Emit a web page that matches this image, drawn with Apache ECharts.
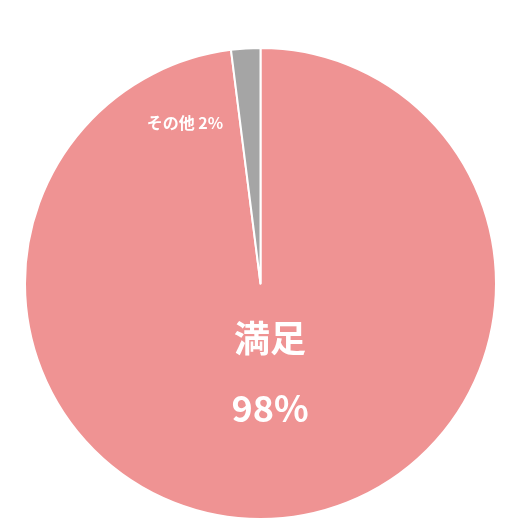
<!DOCTYPE html>
<html>
<head>
<meta charset="utf-8">
<script src="https://cdn.jsdelivr.net/npm/echarts@6/dist/echarts.min.js"></script>
<style>
  html, body { margin: 0; padding: 0; background: #fff; }
  #chart { width: 530px; height: 530px; }
</style>
</head>
<body>
<div id="chart"></div>
<script>
// answers (percent)
const names = ['満足', 'その他']
const values = [98, 2]
const colors = ['#EF9393', '#A5A5A5']

const chart = echarts.init(document.getElementById('chart'))

chart.setOption({
  animation: false,
  series: [
    {
      type: 'pie',
      center: [260.5, 283.5],
      radius: [0, 235.5],
      startAngle: 90,
      clockwise: true,
      itemStyle: {
        borderColor: '#fff',
        borderWidth: 2
      },
      label: {
        show: true,
        position: 'inside',
        color: '#fff',
        fontFamily: 'Noto Sans CJK JP',
        fontWeight: 'bold'
      },
      // move labels off the default inside spot
      labelLayout: function (params) {
        if (params.dataIndex === 0) return { dx: 2, dy: -31 }
        return { dx: -68, dy: -40 }
      },
      data: names.map(function (n, i) {
        const item = { name: n, value: values[i], itemStyle: { color: colors[i] } }
        if (i === 0) {
          item.label = {
            formatter: '{a|{b}}\n{a|{c}%}',
            rich: {
              a: {
                color: '#fff',
                fontSize: 36,
                fontWeight: 'bold',
                fontFamily: 'Noto Sans CJK JP',
                lineHeight: 70
              }
            }
          }
        } else {
          item.label = {
            formatter: '{b} {c}%',
            fontSize: 16
          }
        }
        return item
      })
    }
  ]
})
</script>
</body>
</html>
